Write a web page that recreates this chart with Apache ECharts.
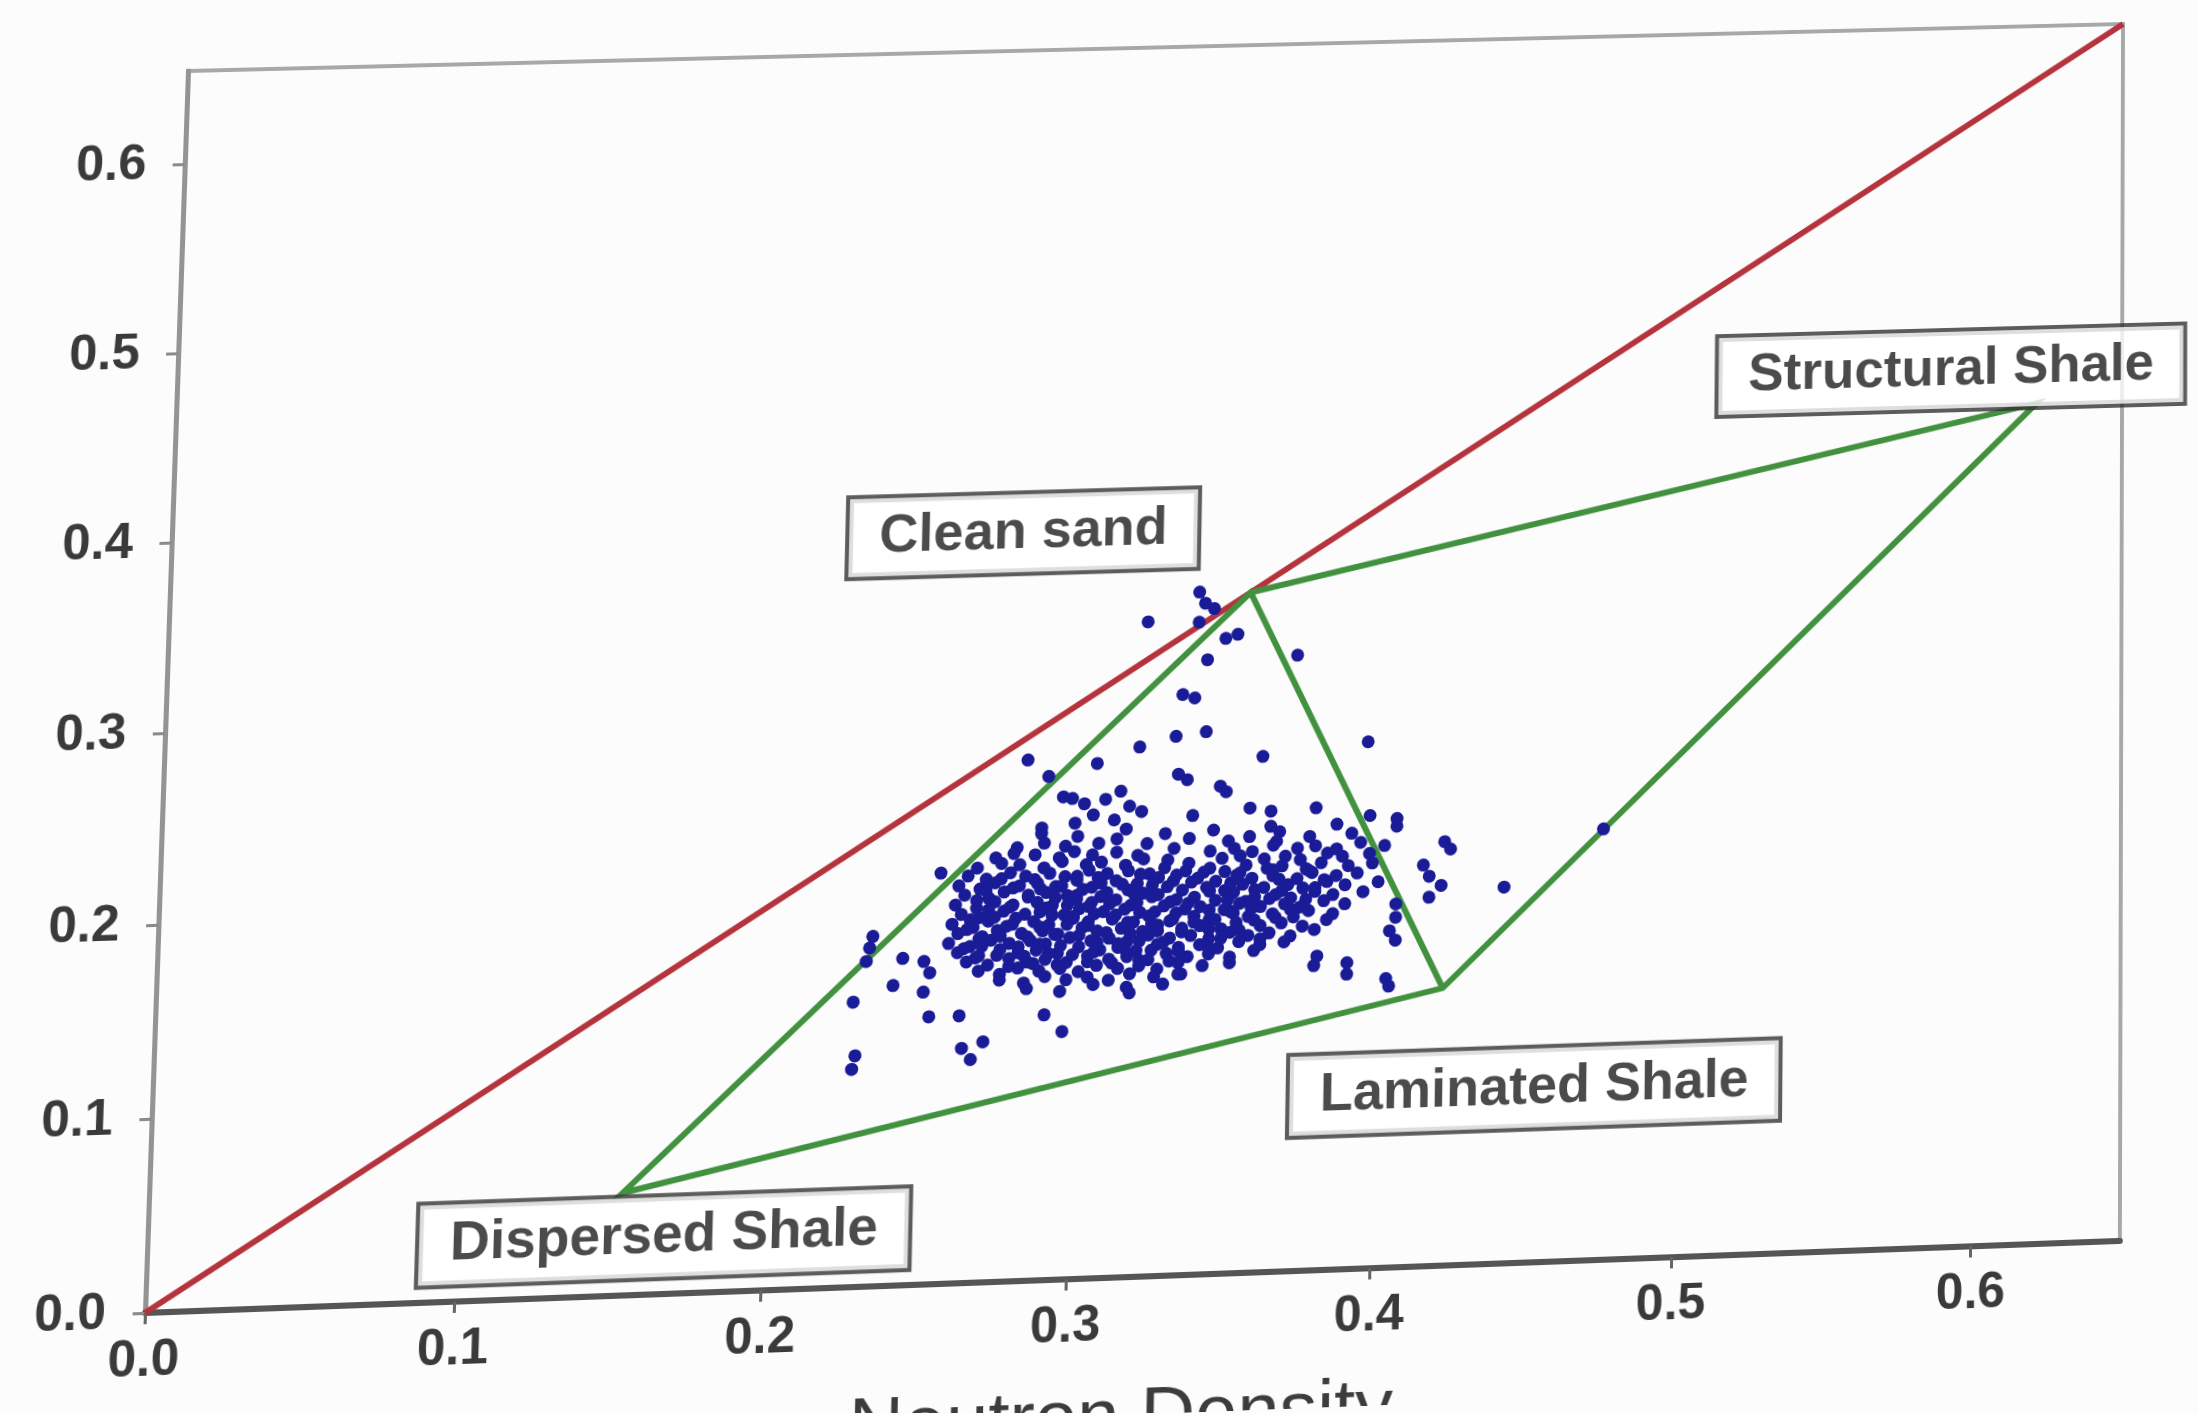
<!DOCTYPE html>
<html>
<head>
<meta charset="utf-8">
<title>Thomas-Stieber crossplot</title>
<script src="https://cdn.jsdelivr.net/npm/echarts@6.0.0/dist/echarts.min.js"></script>
<style>
  html, body { margin: 0; padding: 0; background: #fcfcfc; overflow: hidden; }
  #chart { position: absolute; left: 0; top: 0; width: 2198px; height: 1413px; transform-origin: 0 0; }
</style>
</head>
<body>
<div id="chart"></div>
<script>
// ---- axis ranges and ticks ----
const axisMin = 0;
const axisMax = 0.65;
const tickValues = [0, 0.1, 0.2, 0.3, 0.4, 0.5, 0.6];

// ---- reference lines ----
// 1:1 clean-sand line
const cleanSandLine = [[0, 0], [0.65, 0.65]];
// end members of the shale-distribution triangles
const cleanSandPoint = [0.357, 0.357];
const structuralShalePoint = [0.621, 0.446];
const laminatedShalePoint = [0.423, 0.145];
const dispersedShalePoint = [0.154, 0.053];

// ---- label boxes ----
const labelNames = ['Clean sand', 'Structural Shale', 'Laminated Shale', 'Dispersed Shale'];
const labelPositions = [[0.281, 0.392], [0.592, 0.465], [0.454, 0.091], [0.168, 0.0295]];

// ---- log samples: [neutron-density porosity, effective porosity] ----
const nearCleanSand = [
  [0.340,0.358],[0.342,0.352],[0.345,0.349],[0.340,0.342],[0.323,0.343],[0.349,0.333],
  [0.353,0.335],[0.343,0.322],[0.373,0.323],[0.335,0.304],[0.339,0.302],[0.333,0.282],
  [0.343,0.284],[0.321,0.277],[0.362,0.270],[0.397,0.276],[0.284,0.272],[0.307,0.269],
  [0.291,0.263],[0.334,0.262],[0.337,0.259],[0.348,0.255],[0.350,0.252],[0.315,0.254],
  [0.299,0.251],[0.339,0.240],[0.365,0.241],[0.380,0.242],[0.358,0.243],[0.365,0.233],
  [0.296,0.252],[0.303,0.248],[0.310,0.250],[0.318,0.246],[0.306,0.242],[0.300,0.238],
  [0.313,0.239],[0.322,0.243],[0.289,0.236]
];

const rightFringe = [
  [0.398,0.237],[0.407,0.235],[0.407,0.231],[0.423,0.222],[0.425,0.218],[0.416,0.210],
  [0.418,0.204],[0.422,0.199],[0.418,0.193],[0.443,0.197],[0.476,0.226],[0.407,0.190],
  [0.407,0.183],[0.405,0.176],[0.407,0.171],[0.405,0.147],[0.404,0.151],[0.391,0.154],
  [0.380,0.159],[0.381,0.164],[0.391,0.160]
];

const leftFringe = [
  [0.228,0.148],[0.229,0.120],[0.228,0.113],[0.232,0.169],[0.234,0.182],[0.233,0.176],
  [0.241,0.156],[0.251,0.152],[0.253,0.139],[0.263,0.139],[0.264,0.122],[0.267,0.116],
  [0.271,0.125],[0.291,0.138],[0.297,0.129],[0.253,0.162],[0.244,0.170],[0.251,0.168],
  [0.256,0.214],[0.319,0.148],[0.335,0.157]
];

const mainCluster = [
  [0.289,0.233],[0.301,0.231],[0.317,0.234],[0.330,0.231],[0.346,0.232],[0.368,0.230],[0.387,0.233],
  [0.281,0.226],[0.290,0.228],[0.297,0.226],[0.308,0.227],[0.314,0.229],[0.324,0.226],[0.338,0.228],
  [0.351,0.226],[0.358,0.228],[0.367,0.225],[0.378,0.227],[0.392,0.228],
  [0.274,0.221],[0.280,0.223],[0.287,0.222],[0.295,0.220],[0.300,0.223],[0.306,0.221],[0.314,0.222],
  [0.321,0.220],[0.333,0.223],[0.345,0.221],[0.353,0.222],[0.359,0.220],[0.366,0.223],[0.374,0.221],
  [0.380,0.222],[0.387,0.220],[0.395,0.223],[0.403,0.221],
  [0.268,0.216],[0.276,0.218],[0.282,0.217],[0.290,0.215],[0.296,0.218],[0.304,0.216],[0.309,0.217],
  [0.317,0.215],[0.323,0.218],[0.331,0.217],[0.338,0.215],[0.349,0.217],[0.355,0.218],[0.363,0.216],
  [0.370,0.217],[0.375,0.215],[0.384,0.218],[0.389,0.216],[0.398,0.217],
  [0.265,0.212],[0.271,0.210],[0.279,0.213],[0.284,0.211],[0.292,0.212],[0.297,0.210],[0.305,0.213],
  [0.311,0.211],[0.318,0.212],[0.325,0.210],[0.330,0.213],[0.337,0.211],[0.345,0.212],[0.350,0.210],
  [0.357,0.213],[0.364,0.211],[0.369,0.212],[0.377,0.210],[0.382,0.213],[0.391,0.211],[0.399,0.212],
  [0.262,0.207],[0.269,0.205],[0.274,0.208],[0.282,0.206],[0.288,0.207],[0.294,0.205],[0.301,0.208],
  [0.309,0.206],[0.314,0.207],[0.321,0.205],[0.328,0.208],[0.333,0.206],[0.341,0.207],[0.347,0.205],
  [0.354,0.208],[0.359,0.206],[0.366,0.207],[0.374,0.205],[0.379,0.208],[0.387,0.206],[0.394,0.207],
  [0.264,0.202],[0.272,0.200],[0.277,0.203],[0.285,0.201],[0.291,0.202],[0.298,0.200],[0.303,0.203],
  [0.311,0.201],[0.318,0.202],[0.323,0.200],[0.331,0.203],[0.336,0.201],[0.344,0.202],[0.350,0.200],
  [0.356,0.203],[0.363,0.201],[0.371,0.202],[0.376,0.200],[0.384,0.203],[0.390,0.201],[0.401,0.202],
  [0.261,0.197],[0.268,0.195],[0.274,0.198],[0.280,0.196],[0.288,0.197],[0.293,0.195],[0.301,0.198],
  [0.306,0.196],[0.314,0.197],[0.321,0.195],[0.326,0.198],[0.334,0.196],[0.340,0.197],[0.347,0.195],
  [0.352,0.198],[0.360,0.196],[0.367,0.197],[0.372,0.195],[0.380,0.198],[0.386,0.196],[0.396,0.197],
  [0.263,0.192],[0.269,0.190],[0.277,0.193],[0.284,0.191],[0.289,0.192],[0.297,0.190],[0.302,0.193],
  [0.310,0.191],[0.317,0.192],[0.322,0.190],[0.330,0.193],[0.337,0.191],[0.342,0.192],[0.350,0.190],
  [0.355,0.193],[0.362,0.191],[0.370,0.192],[0.375,0.190],[0.383,0.193],[0.390,0.191],
  [0.260,0.187],[0.267,0.185],[0.272,0.188],[0.280,0.186],[0.287,0.187],[0.292,0.185],[0.300,0.188],
  [0.305,0.186],[0.313,0.187],[0.320,0.185],[0.325,0.188],[0.333,0.186],[0.340,0.187],[0.345,0.185],
  [0.353,0.188],[0.358,0.186],[0.366,0.187],[0.373,0.185],[0.378,0.188],[0.386,0.186],
  [0.262,0.182],[0.270,0.180],[0.275,0.183],[0.283,0.181],[0.290,0.182],[0.295,0.180],[0.303,0.183],
  [0.308,0.181],[0.316,0.182],[0.323,0.180],[0.328,0.183],[0.336,0.181],[0.342,0.182],[0.349,0.180],
  [0.354,0.183],[0.362,0.181],[0.369,0.182],[0.376,0.180],[0.384,0.183],
  [0.259,0.177],[0.266,0.175],[0.273,0.178],[0.279,0.176],[0.286,0.177],[0.291,0.175],[0.299,0.178],
  [0.306,0.176],[0.312,0.177],[0.318,0.175],[0.325,0.178],[0.332,0.176],[0.339,0.177],[0.345,0.175],
  [0.352,0.178],[0.358,0.176],[0.365,0.177],[0.372,0.175],[0.380,0.178],
  [0.262,0.172],[0.269,0.170],[0.276,0.173],[0.282,0.171],[0.288,0.172],[0.295,0.170],[0.302,0.173],
  [0.309,0.171],[0.315,0.172],[0.321,0.170],[0.328,0.173],[0.335,0.171],[0.342,0.172],[0.348,0.170],
  [0.355,0.173],[0.362,0.171],[0.370,0.172],
  [0.265,0.167],[0.272,0.165],[0.279,0.168],[0.285,0.166],[0.291,0.167],[0.298,0.165],[0.305,0.168],
  [0.312,0.166],[0.318,0.167],[0.325,0.165],[0.331,0.168],[0.338,0.166],[0.345,0.167],[0.352,0.165],
  [0.360,0.168],
  [0.269,0.162],[0.276,0.160],[0.282,0.163],[0.289,0.161],[0.296,0.162],[0.302,0.160],[0.308,0.163],
  [0.315,0.161],[0.322,0.162],[0.328,0.160],[0.335,0.163],[0.343,0.161],[0.352,0.162],
  [0.276,0.157],[0.284,0.155],[0.291,0.158],[0.298,0.156],[0.305,0.157],[0.312,0.155],[0.319,0.158],
  [0.327,0.156],[0.336,0.157],
  [0.285,0.152],[0.296,0.150],[0.307,0.153],[0.318,0.151],[0.330,0.152]
];

// densest part of the cluster
const clusterCore = [
  [0.276,0.210],[0.287,0.209],[0.301,0.210],[0.308,0.209],[0.322,0.210],[0.334,0.209],[0.343,0.210],
  [0.355,0.209],[0.366,0.210],[0.378,0.209],
  [0.271,0.204],[0.280,0.205],[0.289,0.204],[0.296,0.205],[0.306,0.204],[0.316,0.205],[0.326,0.204],
  [0.339,0.205],[0.352,0.204],[0.368,0.205],[0.383,0.204],
  [0.268,0.199],[0.285,0.200],[0.294,0.199],[0.301,0.200],[0.309,0.199],[0.320,0.200],[0.328,0.199],
  [0.345,0.200],[0.353,0.199],[0.360,0.200],[0.369,0.199],[0.380,0.200],
  [0.272,0.194],[0.279,0.195],[0.291,0.194],[0.298,0.195],[0.305,0.194],[0.312,0.195],[0.319,0.194],
  [0.332,0.195],[0.338,0.194],[0.351,0.195],[0.357,0.194],[0.365,0.195],[0.377,0.194],
  [0.266,0.189],[0.274,0.190],[0.281,0.189],[0.293,0.190],[0.300,0.189],[0.307,0.190],[0.314,0.189],
  [0.327,0.190],[0.334,0.189],[0.345,0.190],[0.352,0.189],[0.359,0.190],[0.372,0.189],
  [0.265,0.184],[0.278,0.185],[0.289,0.184],[0.298,0.185],[0.305,0.184],[0.318,0.185],[0.326,0.184],
  [0.332,0.185],[0.340,0.184],[0.347,0.185],[0.360,0.184],[0.367,0.185],
  [0.269,0.179],[0.276,0.180],[0.285,0.179],[0.294,0.180],[0.302,0.179],[0.311,0.180],[0.319,0.179],
  [0.328,0.180],[0.336,0.179],[0.345,0.180],[0.355,0.179],
  [0.264,0.174],[0.270,0.175],[0.282,0.174],[0.289,0.175],[0.296,0.174],[0.308,0.175],[0.315,0.174],
  [0.322,0.175],[0.330,0.174],[0.349,0.175],[0.362,0.174],
  [0.268,0.169],[0.275,0.170],[0.284,0.169],[0.292,0.170],[0.300,0.169],[0.307,0.170],[0.318,0.169],
  [0.326,0.170],[0.335,0.169],[0.345,0.170],
  [0.279,0.164],[0.287,0.165],[0.295,0.164],[0.305,0.165],[0.313,0.164],[0.322,0.165],[0.332,0.164]
];

// ---- chart ----
const chart = echarts.init(document.getElementById('chart'), null, { renderer: 'canvas' });

const gridBox = { left: 167, top: 48, width: 1955, height: 1230 };
const tickFont = '"Liberation Sans", Arial, sans-serif';
const fmt = v => (Math.abs(v * 10 - Math.round(v * 10)) < 1e-6 ? v.toFixed(1) : '');

const trianglePath = [
  cleanSandPoint, structuralShalePoint, laminatedShalePoint,
  dispersedShalePoint, cleanSandPoint, laminatedShalePoint
];

chart.setOption({
  backgroundColor: '#fcfcfc',
  animation: false,
  grid: Object.assign({
    show: true,
    borderColor: '#a8a8a8',
    borderWidth: 4,
    backgroundColor: 'transparent',
    containLabel: false,
    outerBoundsMode: 'none'
  }, gridBox),
  xAxis: {
    type: 'value',
    min: axisMin,
    max: axisMax,
    interval: 0.1,
    name: 'Neutron Density',
    nameLocation: 'middle',
    nameGap: 102,
    nameTextStyle: { fontFamily: tickFont, fontSize: 75, color: '#3c3c3c', lineHeight: 75,
                     padding: [0, 36, 0, 0] },
    axisLine: { show: true, onZero: false, lineStyle: { color: '#555555', width: 6 } },
    axisTick: { show: true, inside: false, length: 11, customValues: tickValues,
                lineStyle: { color: '#666666', width: 3 } },
    axisLabel: { show: true, margin: 22, customValues: tickValues, formatter: fmt,
                 fontFamily: tickFont, fontWeight: 'bold', fontSize: 50, color: '#3a3a3a' },
    splitLine: { show: false }
  },
  yAxis: {
    type: 'value',
    min: axisMin,
    max: axisMax,
    interval: 0.1,
    axisLine: { show: true, onZero: false, lineStyle: { color: '#949494', width: 5 } },
    axisTick: { show: true, inside: false, length: 12, customValues: tickValues,
                lineStyle: { color: '#8a8a8a', width: 3 } },
    axisLabel: { show: true, margin: 38, customValues: tickValues, formatter: fmt,
                 fontFamily: tickFont, fontWeight: 'bold', fontSize: 50, color: '#3a3a3a' },
    splitLine: { show: false }
  },
  series: [
    {
      name: 'Clean sand line',
      type: 'line',
      data: cleanSandLine,
      symbol: 'none',
      z: 2,
      lineStyle: { color: '#b5333d', width: 6 }
    },
    {
      name: 'Shale distribution',
      type: 'line',
      data: trianglePath,
      symbol: 'none',
      z: 3,
      lineStyle: { color: '#41913f', width: 6, join: 'miter' }
    },
    {
      name: 'Samples',
      type: 'scatter',
      data: mainCluster.concat(clusterCore, nearCleanSand, rightFringe, leftFringe),
      symbol: 'circle',
      symbolSize: 13,
      z: 4,
      itemStyle: { color: '#1a1b96', opacity: 1 }
    },
    {
      name: 'Labels',
      type: 'scatter',
      data: labelNames.map((n, i) => ({ name: n, value: labelPositions[i] })),
      symbolSize: 1,
      z: 6,
      itemStyle: { color: 'rgba(0,0,0,0)' },
      label: {
        show: true,
        position: 'inside',
        formatter: '{b}',
        fontFamily: tickFont,
        fontWeight: 'bold',
        fontSize: 54,
        lineHeight: 56,
        color: '#1e1e1e',
        backgroundColor: '#ffffff',
        borderColor: '#333333',
        borderWidth: 4,
        padding: [12, 30, 10, 30]
      }
    }
  ]
});

// ---- page tilt: map the plot rectangle onto the printed quadrilateral ----
function solveProjective(src, dst) {
  const A = [], b = [];
  for (let k = 0; k < 4; k++) {
    const [x, y] = src[k], [u, v] = dst[k];
    A.push([x, y, 1, 0, 0, 0, -u * x, -u * y]); b.push(u);
    A.push([0, 0, 0, x, y, 1, -v * x, -v * y]); b.push(v);
  }
  const n = 8;
  for (let i = 0; i < n; i++) {
    let p = i;
    for (let r = i + 1; r < n; r++) if (Math.abs(A[r][i]) > Math.abs(A[p][i])) p = r;
    [A[i], A[p]] = [A[p], A[i]]; [b[i], b[p]] = [b[p], b[i]];
    for (let r = i + 1; r < n; r++) {
      const f = A[r][i] / A[i][i];
      for (let c = i; c < n; c++) A[r][c] -= f * A[i][c];
      b[r] -= f * b[i];
    }
  }
  const h = new Array(n);
  for (let i = n - 1; i >= 0; i--) {
    let s = b[i];
    for (let c = i + 1; c < n; c++) s -= A[i][c] * h[c];
    h[i] = s / A[i][i];
  }
  return h;
}

const L = gridBox.left, T = gridBox.top, R = L + gridBox.width, B = T + gridBox.height;
const srcCorners = [[L, T], [R, T], [R, B], [L, B]];
const dstCorners = [[188, 71], [2123, 24], [2120, 1241], [145, 1313]];
const h = solveProjective(srcCorners, dstCorners);
document.getElementById('chart').style.transform =
  'matrix3d(' + [h[0], h[3], 0, h[6], h[1], h[4], 0, h[7], 0, 0, 1, 0, h[2], h[5], 0, 1].join(',') + ')';
</script>
</body>
</html>
